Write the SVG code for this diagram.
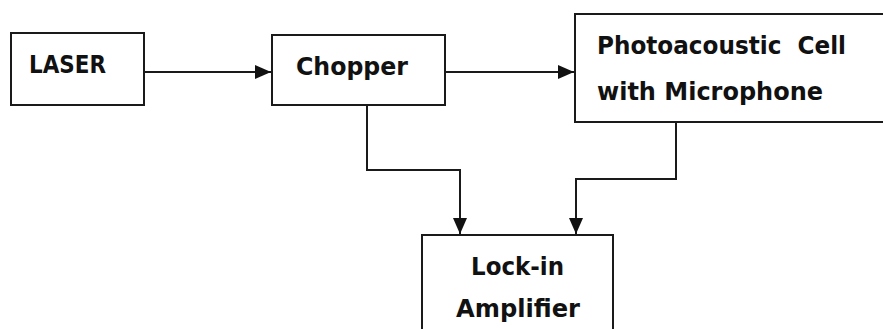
<svg xmlns="http://www.w3.org/2000/svg" width="883" height="329" viewBox="0 0 883 329">
<style>
.box{fill:#fff;stroke:#1a1a1a;stroke-width:2}
.lbl{font-family:"DejaVu Sans",Verdana,sans-serif;font-weight:bold;font-size:25px;fill:#111}
.con{fill:none;stroke:#1a1a1a;stroke-width:2}
</style>
<defs>
<marker id="ah" viewBox="0 0 16 14" refX="16" refY="7" markerWidth="16" markerHeight="14" markerUnits="userSpaceOnUse" orient="auto">
<path d="M0,0 L16,7 L0,14 Z" fill="#111"/>
</marker>
</defs>
<rect width="883" height="329" fill="#fff"/>
<g id="laser">
<rect class="box" x="11" y="33" width="133" height="72"/>
<text class="lbl" x="29" y="73" textLength="77" lengthAdjust="spacingAndGlyphs">LASER</text>
</g>
<g id="chopper">
<rect class="box" x="272" y="35" width="173" height="70"/>
<text class="lbl" x="296" y="75" textLength="112" lengthAdjust="spacingAndGlyphs">Chopper</text>
</g>
<g id="pacell">
<rect class="box" x="575" y="14" width="320" height="108"/>
<text class="lbl" x="597" y="54" textLength="249" lengthAdjust="spacingAndGlyphs" xml:space="preserve">Photoacoustic  Cell</text>
<text class="lbl" x="597" y="100" textLength="226" lengthAdjust="spacingAndGlyphs">with Microphone</text>
</g>
<g id="lockin">
<rect class="box" x="422" y="235" width="191" height="110"/>
<text class="lbl" x="471" y="275" textLength="93" lengthAdjust="spacingAndGlyphs">Lock-in</text>
<text class="lbl" x="456" y="317" textLength="124" lengthAdjust="spacingAndGlyphs">Amplifier</text>
</g>
<g id="connectors">
<path class="con" d="M144,72 L271,72" marker-end="url(#ah)"/>
<path class="con" d="M445,72 L574,72" marker-end="url(#ah)"/>
<path class="con" d="M367,105 L367,170 L460,170 L460,234" marker-end="url(#ah)"/>
<path class="con" d="M676,122 L676,179 L576,179 L576,234" marker-end="url(#ah)"/>
</g>
</svg>
